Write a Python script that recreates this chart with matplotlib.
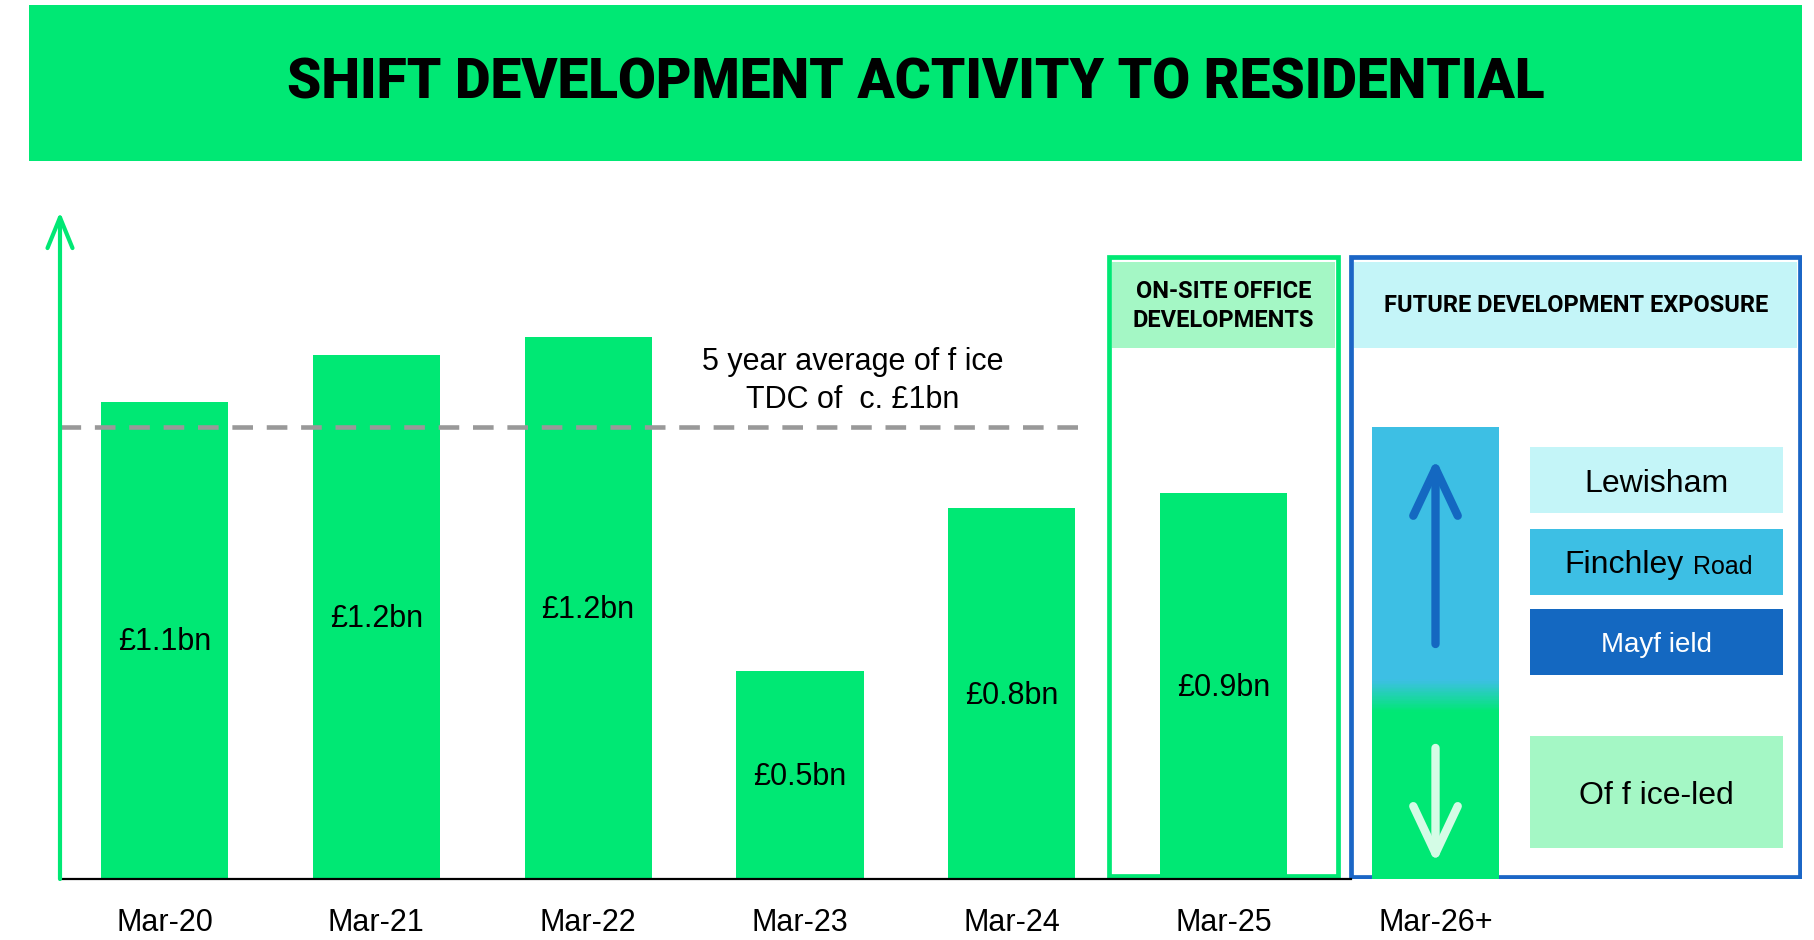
import numpy as np
import matplotlib
matplotlib.use("Agg")
import matplotlib.pyplot as plt
from matplotlib.patches import Rectangle

# data
categories = ["Mar-20", "Mar-21", "Mar-22", "Mar-23", "Mar-24", "Mar-25", "Mar-26+"]
tdc = [1.055, 1.16, 1.20, 0.46, 0.82, 0.855]          # office TDC (bar heights, £bn scale)
tdc_labels = ["£1.1bn", "£1.2bn", "£1.2bn", "£0.5bn", "£0.8bn", "£0.9bn"]
avg_tdc = 1.0
future_total = 1.0
future_office = 0.405
legend_names = ["Lewisham", "Finchley", "Mayfield", "Office-led"]

# colours
GREEN = "#00e874"
LIGHT_GREEN = "#a4f7c5"
LIGHT_CYAN = "#c4f5f8"
MID_BLUE = "#3dbfe4"
DARK_BLUE = "#1468c1"
BOX_BLUE = "#1b66c6"

plt.rcParams["font.family"] = ["Liberation Sans", "DejaVu Sans"]
HEAD_FONT = ["Roboto", "DejaVu Sans"]

W, H = 1815, 940
fig = plt.figure(figsize=(W / 100, H / 100), dpi=100)
fig.patch.set_facecolor("white")

# title banner
fig.add_artist(Rectangle((29 / W, 1 - 161 / H), (1802 - 29) / W, 156 / H,
                         transform=fig.transFigure, color=GREEN, lw=0))
fig.text(0.5045, 1 - 83 / H, "SHIFT DEVELOPMENT ACTIVITY TO RESIDENTIAL",
         ha="center", va="center", fontsize=39.5, fontweight="black",
         family=HEAD_FONT, color="black")

ax = fig.add_axes([60 / W, 61 / H, (1802 - 60) / W, (728 - 61) / H])
for s in ax.spines.values():
    s.set_visible(False)
ax.set_yticks([])

x = np.arange(len(categories))
bw = 0.6

# boxes around Mar-25 and Mar-26+
ax.add_patch(Rectangle((4.46, 0.007), 1.08, 1.369, fill=False, ec=GREEN, lw=3.4, zorder=1))
ax.add_patch(Rectangle((4.475, 1.176), 1.05, 0.19, color=LIGHT_GREEN, lw=0, zorder=0.5))
ax.add_patch(Rectangle((5.60, 0.004), 2.12, 1.372, fill=False, ec=BOX_BLUE, lw=3.4, zorder=1))
ax.add_patch(Rectangle((5.615, 1.176), 2.09, 0.19, color=LIGHT_CYAN, lw=0, zorder=0.5))

ax.text(5.0, 1.268, "ON-SITE OFFICE\nDEVELOPMENTS", ha="center", va="center",
        fontsize=17, fontweight="bold", linespacing=1.35, family=HEAD_FONT)
ax.text(6.665, 1.27, "FUTURE DEVELOPMENT EXPOSURE", ha="center", va="center",
        fontsize=17, fontweight="bold", family=HEAD_FONT)

# historic bars
ax.bar(x[:6], tdc, width=bw, color=GREEN, zorder=2)
for xi, h, lab in zip(x[:6], tdc, tdc_labels):
    ax.text(xi, h / 2 - 0.004, lab, ha="center", va="center", fontsize=22, zorder=3)

# future bar: green office part, short blend, blue residential part
grad_lo, grad_hi = future_office - 0.035, future_office + 0.035
ax.bar(x[6], grad_lo, width=bw, color=GREEN, zorder=2)
ax.bar(x[6], future_total - grad_hi, bottom=grad_hi, width=bw, color=MID_BLUE, zorder=2)
cm = matplotlib.colors.LinearSegmentedColormap.from_list("gb", [GREEN, MID_BLUE])
n_seg = 24
edges = np.linspace(grad_lo, grad_hi, n_seg + 1)
for i in range(n_seg):
    ax.bar(x[6], edges[i + 1] - edges[i] + 0.002, bottom=edges[i], width=bw,
           color=cm((i + 0.5) / n_seg), lw=0, zorder=2)

ax.annotate("", xy=(x[6], 0.93), xytext=(x[6], 0.52), zorder=4,
            arrowprops=dict(arrowstyle="->,head_length=1.7,head_width=0.8",
                            color=DARK_BLUE, lw=6, mutation_scale=20,
                            capstyle="round", joinstyle="round",
                            shrinkA=0, shrinkB=0))
ax.annotate("", xy=(x[6], 0.035), xytext=(x[6], 0.29), zorder=4,
            arrowprops=dict(arrowstyle="->,head_length=1.7,head_width=0.8",
                            color="#d4fce6", lw=6, mutation_scale=20,
                            capstyle="round", joinstyle="round",
                            shrinkA=0, shrinkB=0))

# legend boxes
lx0, lw_ = 6.447, 1.193
ax.add_patch(Rectangle((lx0, 0.81), lw_, 0.146, color=LIGHT_CYAN, lw=0))
ax.add_patch(Rectangle((lx0, 0.628), lw_, 0.146, color=MID_BLUE, lw=0))
ax.add_patch(Rectangle((lx0, 0.451), lw_, 0.146, color=DARK_BLUE, lw=0))
ax.add_patch(Rectangle((lx0, 0.068), lw_, 0.248, color=LIGHT_GREEN, lw=0))
ax.text(lx0 + lw_ / 2, 0.875, legend_names[0], ha="center", va="center", fontsize=23)
ax.text(7.17, 0.695, legend_names[1], ha="right", va="center", fontsize=23)
ax.text(7.215, 0.69, "Road", ha="left", va="center", fontsize=18)
ax.text(lx0 + lw_ / 2, 0.517, "Mayf ield", ha="center", va="center", fontsize=20, color="white")
ax.text(lx0 + lw_ / 2, 0.184, "Of f ice-led", ha="center", va="center", fontsize=23)

# average line
ax.plot([-0.493, 4.36], [avg_tdc, avg_tdc], color="#999999", lw=3.3,
        dashes=(4.5, 3), zorder=3)
ax.text(3.25, 1.145, "5 year average of f ice", ha="center", va="center", fontsize=22)
ax.text(3.25, 1.06, "TDC of  c. £1bn", ha="center", va="center", fontsize=22)

# baseline and y arrow
ax.plot([-0.493, 5.6], [0, 0], color="black", lw=1.6, zorder=3, clip_on=False)
ax.annotate("", xy=(-0.493, 1.476), xytext=(-0.493, 0), annotation_clip=False,
            arrowprops=dict(arrowstyle="->,head_length=1.1,head_width=0.45",
                            color=GREEN, lw=3, mutation_scale=20,
                            shrinkA=0, shrinkB=0))

ax.set_xticks(x, categories, fontsize=22)
ax.tick_params(axis="x", length=0, pad=21)
ax.set_xlim(-0.493, 7.73)
ax.set_ylim(0, 1.476)

fig.savefig("out.png", dpi=100)
